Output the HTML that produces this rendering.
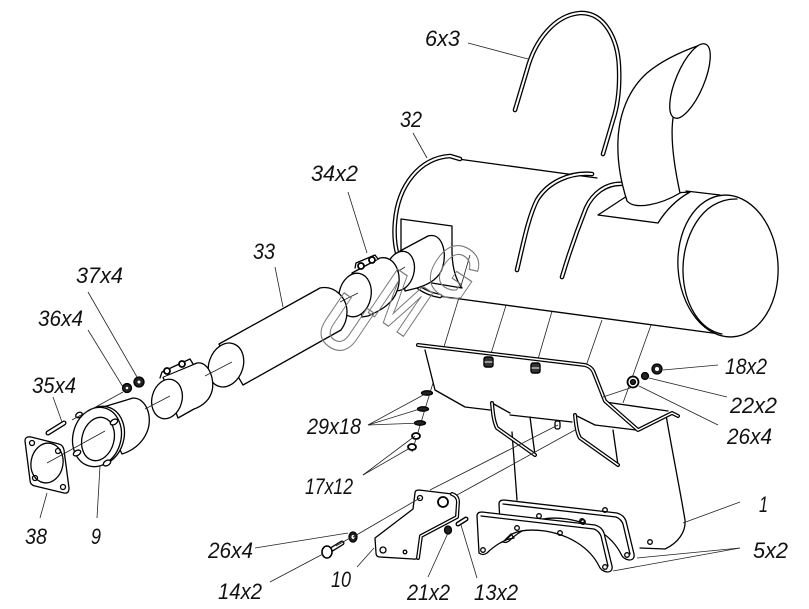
<!DOCTYPE html>
<html><head><meta charset="utf-8"><style>
html,body{margin:0;padding:0;background:#fff}
svg{display:block}
.lb{font-family:"Liberation Sans",sans-serif;font-style:italic;font-size:22px;fill:#111}
.wm{font-family:"Liberation Sans",sans-serif;font-weight:bold;font-size:76px;fill:none;stroke:#7a7a7a;stroke-width:1.2}
</style></head><body>
<svg width="809" height="609" viewBox="0 0 809 609" xmlns="http://www.w3.org/2000/svg">
<rect width="809" height="609" fill="#fff"/>

<!-- background axis lines -->
<g fill="none" stroke="#222" stroke-width="0.8">
  <path d="M471 258 L412 452"/>
  <path d="M517 270 L489 360"/>
  <path d="M562 277 L536 366"/>
  <path d="M602 320 L586 366"/>
  <path d="M651 325 L623 403"/>
</g>

<g fill="none" stroke="#000" stroke-width="1.3" stroke-linejoin="round" stroke-linecap="round">
  <!-- detached strap 6x3 -->
  <path d="M515 110 L527 70 C535 40 555 15 580 13 C605 12 618 40 619 67 C620 90 617 108 613 120 L603 154" stroke-width="4.6"/>
  <path d="M515 110 L527 70 C535 40 555 15 580 13 C605 12 618 40 619 67 C620 90 617 108 613 120 L603 154" stroke="#fff" stroke-width="2"/>

  <!-- muffler body -->
  <path d="M452 157 L600 178 L717 194 L728 195 L728 337 L720 334 L440 296 C405 290 392 255 395 222 C398 185 420 160 452 157 Z" fill="#fff" stroke="none"/>
  <path d="M458 159 L597 178"/>
  <path d="M686 191 L720 195"/>
  <path d="M438 296 L720 334"/>
  <ellipse cx="728" cy="266" rx="50" ry="71" transform="rotate(-4 728 266)" fill="#fff"/>
  <path d="M737 199 C700 198 682 240 683 272 C684 305 700 330 722 334"/>
  <!-- left end band -->
  <path d="M440 296 C405 290 392 255 395 222 C398 185 420 158 450 156 L460 159" stroke-width="4.6"/>
  <path d="M440 296 C405 290 392 255 395 222 C398 185 420 158 450 156 L460 159" stroke="#fff" stroke-width="2"/>
  <!-- body straps -->
  <path d="M592 174 C570 172 548 182 537 200 C528 218 523 245 517 270" stroke-width="4.6"/>
  <path d="M592 174 C570 172 548 182 537 200 C528 218 523 245 517 270" stroke="#fff" stroke-width="2"/>
  <path d="M625 184 C605 182 592 195 586 208 C578 228 570 250 562 277" stroke-width="4.6"/>
  <path d="M625 184 C605 182 592 195 586 208 C578 228 570 250 562 277" stroke="#fff" stroke-width="2"/>

  <!-- tailpipe -->
  <path d="M627 196 L598 215 L658 223 C663 215 672 202 690 192 Z" fill="#fff"/>
  <path d="M700 45 C680 52 660 62 647 73 C628 90 619 115 618 140 C617 165 622 185 627 201 C635 210 660 205 680 193 C675 170 670 140 673 118 Z" fill="#fff"/>
  <ellipse cx="690" cy="81" rx="14" ry="40" transform="rotate(23 690 81)" fill="#fff"/>

  <!-- inlet patch and stub -->
  <path d="M401 219 L452 226 L452 250 C452 268 456 280 462 288 L432 283 L401 260 Z" fill="#fff"/>
  <path d="M400 251 L428 236 C442 232 447 252 443 266 C440 278 430 284 417 288 L405 291 Z" fill="#fff"/>
  <ellipse cx="400" cy="271" rx="14" ry="20" transform="rotate(15 400 271)" fill="#fff"/>

  <!-- clamp 34 -->
  <path d="M352 273 L380 258 C396 255 403 276 397 291 C393 303 382 310 368 316 L362 317 Z" fill="#fff"/>
  <ellipse cx="355" cy="295" rx="16" ry="22" transform="rotate(12 355 295)" fill="#fff"/>
  <path d="M355 268 L356 263 L375 255 L378 259" fill="#fff"/>
  <circle cx="361" cy="266" r="3" fill="#fff" stroke-width="1.8"/>
  <circle cx="372" cy="260" r="3" fill="#fff" stroke-width="1.8"/>

  <!-- pipe 33 -->
  <path d="M219 344 L320 288 C335 285 347 298 347 312 C347 320 344 326 341 330 L243 385 Z" fill="#fff"/>
  <ellipse cx="226" cy="365" rx="17" ry="22.5" transform="rotate(20 226 365)" fill="#fff"/>

  <!-- small clamp -->
  <path d="M163 377 L197 363 C210 361 216 383 211 394 C208 402 200 407 194 409 L178 418 Z" fill="#fff"/>
  <ellipse cx="167" cy="399" rx="15" ry="20" transform="rotate(15 167 399)" fill="#fff"/>
  <path d="M160 378 L162 372 L190 359 L193 364" fill="#fff"/>
  <circle cx="167" cy="371" r="3" fill="#fff" stroke-width="1.8"/>
  <circle cx="182" cy="364" r="3" fill="#fff" stroke-width="1.8"/>

  <!-- flange 9 -->
  <path d="M100 408 L133 398 C147 398 153 418 147 432 C142 444 132 451 122 454 Z" fill="#fff"/>
  <ellipse cx="100" cy="436" rx="24" ry="30" transform="rotate(15 100 436)" fill="#fff"/>
  <ellipse cx="97" cy="437" rx="24" ry="30" transform="rotate(15 97 437)" fill="#fff"/>
  <ellipse cx="98" cy="439" rx="16" ry="22" transform="rotate(15 98 439)" fill="#fff"/>
  <ellipse cx="79" cy="415" rx="3.5" ry="2.5" transform="rotate(-30 79 415)" fill="#fff"/>
  <ellipse cx="114" cy="422" rx="4" ry="2.5" transform="rotate(-30 114 422)" fill="#fff"/>
  <ellipse cx="77" cy="453" rx="4" ry="2.5" transform="rotate(-30 77 453)" fill="#fff"/>
  <ellipse cx="107" cy="463" rx="4" ry="2.5" transform="rotate(-30 107 463)" fill="#fff"/>

  <!-- gasket 38 -->
  <path d="M25 441 Q25 436 31 437 L59 444 Q63 445 64 450 L69 488 Q69 494 64 493 L35 486 Q30 485 30 480 Z" fill="#fff"/>
  <ellipse cx="47" cy="463" rx="16" ry="20" transform="rotate(10 47 463)"/>
  <circle cx="32" cy="443" r="2.5"/><circle cx="58" cy="451" r="2.5"/>
  <circle cx="35" cy="478" r="2.5"/><circle cx="63" cy="487" r="2.5"/>

  <!-- pin 35 -->
  <path d="M48 433 L64 423" stroke-width="5"/>
  <path d="M48 433 L64 423" stroke="#fff" stroke-width="2.4"/>

  <!-- washers 36 / 37 -->
  <circle cx="127" cy="388" r="4.5" fill="#222"/>
  <circle cx="127" cy="388" r="1.3" fill="#fff" stroke="none"/>
  <circle cx="139" cy="382" r="5" fill="#222"/>
  <circle cx="139" cy="382" r="1.5" fill="#fff" stroke="none"/>

  <!-- heat shield -->
  <path d="M418 345 L585 365 L594 373 L605 401 L638 430 L672 413 L668 411 L666 415 C672 450 680 490 685 520 C686 532 678 543 665 549 L640 548 L517 500 L512 432 L488 410 L465 407 L435 390 L425 350 Z" fill="#fff" stroke="none"/>
  <path d="M425 350 L435 390 L465 407 L490 410"/>
  <path d="M510 415 L572 422"/>
  <path d="M595 425 L636 430"/>
  <path d="M605 402 L668 411"/>
  <path d="M666 415 C672 450 680 490 685 520 C686 532 678 543 665 549 L640 548"/>
  <path d="M512 432 L517 500"/>
  <path d="M530 417 L535 455"/>
  <path d="M613 430 L618 465"/>
  <path d="M492 403 L510 413"/>
  <path d="M575 415 L595 425"/>
  <path d="M418 345 L585 365 Q592 367 594 373 L605 401 L638 430 L672 413 L678 416" stroke-width="4"/>
  <path d="M418 345 L585 365 Q592 367 594 373 L605 401 L638 430 L672 413 L678 416" stroke="#fff" stroke-width="1.5"/>
  <path d="M492 403 C493 415 494 422 497 428 L535 455" stroke-width="4"/>
  <path d="M492 403 C493 415 494 422 497 428 L535 455" stroke="#fff" stroke-width="1.5"/>
  <path d="M575 415 C576 425 577 433 580 438 L618 465" stroke-width="4"/>
  <path d="M575 415 C576 425 577 433 580 438 L618 465" stroke="#fff" stroke-width="1.5"/>
  <rect x="555" y="421" width="5" height="8" rx="2" fill="#fff"/>
  <rect x="484" y="357" width="9" height="10" rx="2" fill="#333" stroke-width="1.4"/>
  <path d="M485 362 L492 362" stroke="#fff" stroke-width="1"/>
  <rect x="531" y="363" width="9" height="10" rx="2" fill="#333" stroke-width="1.4"/>
  <path d="M532 368 L539 368" stroke="#fff" stroke-width="1"/>
</g>

<!-- diagonal axis lines across shield -->
<g fill="none" stroke="#222" stroke-width="0.8">
  <path d="M430 490 L558 425"/>
  <path d="M457 495 L575 430"/>
  <path d="M633 387 L603 397"/>
  <path d="M470 255 L461 286"/>
</g>

<g fill="none" stroke="#000" stroke-width="1.3" stroke-linejoin="round" stroke-linecap="round">
  <!-- side plates 5x2 : plate A (back) -->
  <g transform="translate(22 -12)">
    <path d="M477 516 Q477 512 482 512 L595 525 Q602 527 604 533 L612 566 Q613 572 607 572 Q601 571 599 566 C590 548 570 535 545 531 C530 529 520 530 512 534 L506 540 L500 543 C495 546 490 550 487 553 Q483 556 479 553 Z" fill="#fff"/>
    <path d="M481 516 L594 529 Q599 531 601 536 L608 566"/>
    <circle cx="517" cy="528" r="2.3"/><circle cx="560" cy="533" r="2.3"/><circle cx="583" cy="522" r="2.3"/><circle cx="605" cy="567" r="2.3"/>
  </g>
  <!-- plate B (front) -->
  <path d="M477 516 Q477 512 482 512 L595 525 Q602 527 604 533 L612 566 Q613 572 607 572 Q601 571 599 566 C590 548 570 535 545 531 C530 529 520 530 512 534 L506 540 L500 543 C495 546 490 550 487 553 Q483 556 479 553 Z" fill="#fff"/>
  <path d="M481 516 L594 529 Q599 531 601 536 L608 566"/>
  <path d="M505 540 L511 534 L514 538 Z"/>
  <circle cx="483" cy="550" r="2.3"/><circle cx="517" cy="528" r="2.3"/><circle cx="560" cy="533" r="2.3"/><circle cx="583" cy="522" r="2.3"/><circle cx="605" cy="567" r="2.3"/>
  <circle cx="650" cy="542" r="2.3"/>

  <!-- bracket 10 -->
  <path d="M415 493 Q415 490 419 490 L452 494 Q458 496 458 502 L457 517 L421 536 L418 556 Q417 560 413 559 L380 557 Q376 557 376 553 L375 538 L413 509 Z" fill="#fff"/>
  <path d="M452 494 Q458 496 458 502 L457 517 L421 536 L418 558" stroke-width="4"/>
  <path d="M452 494 Q458 496 458 502 L457 517 L421 536 L418 558" stroke="#fff" stroke-width="1.5"/>
  <circle cx="420" cy="498" r="2.5"/>
  <circle cx="443" cy="502" r="5" stroke-width="1.8"/>
  <circle cx="383" cy="550" r="3"/>
  <circle cx="405" cy="552" r="1.8"/>

  <!-- hardware -->
  <ellipse cx="353" cy="537" rx="4" ry="5" fill="#222"/>
  <ellipse cx="353" cy="537" rx="1.5" ry="2" fill="#fff" stroke="none"/>
  <path d="M329 551 L342 543" stroke-width="5"/>
  <path d="M329 551 L342 543" stroke="#fff" stroke-width="2.4"/>
  <ellipse cx="327" cy="552" rx="5" ry="6" fill="#fff" stroke-width="1.6"/>
  <ellipse cx="448" cy="530" rx="3.5" ry="4" fill="#222"/>
  <path d="M458 524 L466 519" stroke-width="5"/>
  <path d="M458 524 L466 519" stroke="#fff" stroke-width="2.2"/>

  <!-- right nuts -->
  <circle cx="657" cy="369" r="5" fill="#222"/>
  <circle cx="657" cy="369" r="2" fill="#fff" stroke="none"/>
  <circle cx="645" cy="376" r="3.5" fill="#222"/>
  <circle cx="633" cy="382" r="5.5" fill="#fff" stroke-width="1.8"/>
  <circle cx="633" cy="382" r="2.5" fill="#222"/>

  <!-- washers 29, nuts 17 -->
  <ellipse cx="427" cy="393" rx="5.5" ry="2.2" fill="#222"/>
  <ellipse cx="423" cy="409" rx="5.5" ry="2.2" fill="#222"/>
  <ellipse cx="420" cy="423" rx="5.5" ry="2.2" fill="#222"/>
  <ellipse cx="416" cy="436" rx="4" ry="3" fill="#fff" stroke-width="1.8"/>
  <ellipse cx="412" cy="447" rx="4" ry="3" fill="#fff" stroke-width="1.8"/>
</g>

<!-- axis and leader lines -->
<g fill="none" stroke="#222" stroke-width="0.8">
  <path d="M47 463 L105 431"/>
  <path d="M145 409 L170 396"/>
  <path d="M205 376 L232 362"/>
  <path d="M340 302 L358 293"/>
  <path d="M397 272 L405 267"/>
  <path d="M72 420 L123 392"/>
  <path d="M353 537 L420 498"/>
  <path d="M336 546 L350 538"/>
  <!-- leaders -->
  <path d="M468 43 L528 59"/>
  <path d="M413 133 L427 158"/>
  <path d="M348 192 L367 253"/>
  <path d="M275 267 L283 307"/>
  <path d="M88 292 L137 377"/>
  <path d="M88 330 L123 387"/>
  <path d="M53 397 L62 422"/>
  <path d="M40 518 L47 493"/>
  <path d="M97 518 L100 466"/>
  <path d="M368 425 L427 393"/>
  <path d="M368 425 L423 408"/>
  <path d="M368 425 L422 423"/>
  <path d="M363 475 L415 436"/>
  <path d="M363 475 L410 448"/>
  <path d="M663 370 L718 365"/>
  <path d="M649 378 L727 397"/>
  <path d="M639 386 L718 425"/>
  <path d="M683 523 L740 502"/>
  <path d="M613 571 L740 548"/>
  <path d="M637 558 L740 548"/>
  <path d="M255 548 L348 533"/>
  <path d="M270 582 L323 554"/>
  <path d="M357 567 L374 548"/>
  <path d="M428 577 L448 533"/>
  <path d="M477 578 L461 525"/>
</g>

<!-- watermark -->
<text class="wm" text-anchor="middle" y="27" transform="translate(345 324) rotate(34) scale(0.8 1)">U</text>
<text class="wm" text-anchor="middle" y="27" transform="translate(401 302) rotate(34) scale(0.8 1)">M</text>
<text class="wm" text-anchor="middle" y="27" transform="translate(455 271) rotate(34) scale(0.8 1)">G</text>

<!-- labels -->
<text class="lb" x="425" y="46" textLength="35" lengthAdjust="spacingAndGlyphs">6x3</text>
<text class="lb" x="400" y="127" textLength="22" lengthAdjust="spacingAndGlyphs">32</text>
<text class="lb" x="311" y="181" textLength="47" lengthAdjust="spacingAndGlyphs">34x2</text>
<text class="lb" x="253" y="259" textLength="22" lengthAdjust="spacingAndGlyphs">33</text>
<text class="lb" x="76" y="283" textLength="47" lengthAdjust="spacingAndGlyphs">37x4</text>
<text class="lb" x="38" y="326" textLength="45" lengthAdjust="spacingAndGlyphs">36x4</text>
<text class="lb" x="32" y="393" textLength="44" lengthAdjust="spacingAndGlyphs">35x4</text>
<text class="lb" x="25" y="544" textLength="22" lengthAdjust="spacingAndGlyphs">38</text>
<text class="lb" x="91" y="544" textLength="10" lengthAdjust="spacingAndGlyphs">9</text>
<text class="lb" x="307" y="434" textLength="54" lengthAdjust="spacingAndGlyphs">29x18</text>
<text class="lb" x="305" y="494" textLength="48" lengthAdjust="spacingAndGlyphs">17x12</text>
<text class="lb" x="725" y="374" textLength="42" lengthAdjust="spacingAndGlyphs">18x2</text>
<text class="lb" x="730" y="413" textLength="47" lengthAdjust="spacingAndGlyphs">22x2</text>
<text class="lb" x="727" y="444" textLength="45" lengthAdjust="spacingAndGlyphs">26x4</text>
<text class="lb" x="759" y="512" textLength="9" lengthAdjust="spacingAndGlyphs">1</text>
<text class="lb" x="753" y="558" textLength="35" lengthAdjust="spacingAndGlyphs">5x2</text>
<text class="lb" x="208" y="558" textLength="45" lengthAdjust="spacingAndGlyphs">26x4</text>
<text class="lb" x="218" y="599" textLength="44" lengthAdjust="spacingAndGlyphs">14x2</text>
<text class="lb" x="331" y="587" textLength="20" lengthAdjust="spacingAndGlyphs">10</text>
<text class="lb" x="407" y="600" textLength="43" lengthAdjust="spacingAndGlyphs">21x2</text>
<text class="lb" x="474" y="600" textLength="44" lengthAdjust="spacingAndGlyphs">13x2</text>
</svg>
</body></html>
